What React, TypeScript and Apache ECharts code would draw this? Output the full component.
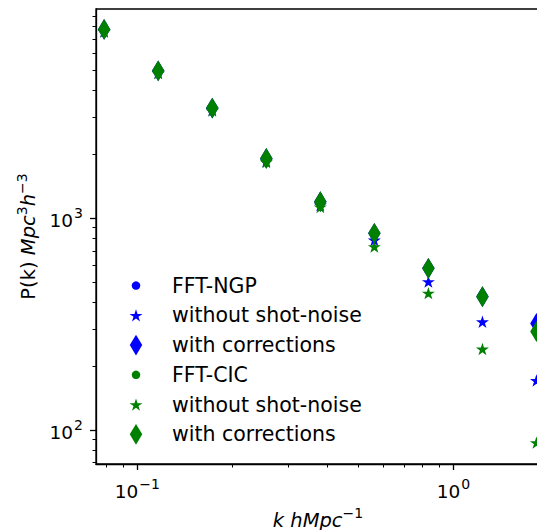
import React, { useEffect, useRef } from "react";
import * as echarts from "echarts";

// ---- data ----
const kValues = [0.0785, 0.1164, 0.1726, 0.2559, 0.3793, 0.5623, 0.8336, 1.236, 1.832];
const ngpRaw = [7770, 4950, 3300, 1910, 1190, 845, 578, 425, 318];
const ngpNoShot = [7620, 4850, 3240, 1858, 1152, 787, 501, 324, 171];
const ngpCorrected = [7770, 4953, 3303, 1912, 1194, 847, 579, 426, 318];
const cicRaw = [7770, 4953, 3303, 1912, 1194, 847, 579, 425, 291];
const cicNoShot = [7600, 4830, 3220, 1837, 1127, 733, 442, 241, 87];
const cicCorrected = [7770, 4953, 3303, 1912, 1194, 847, 579, 425, 291];

const xMajorTicks = [0.1, 1];
const xMinorTicks = [0.08, 0.09, 0.2, 0.3, 0.4, 0.5, 0.6, 0.7, 0.8, 0.9];
const yMajorTicks = [100, 1000];
const yMinorTicks = [70, 80, 90, 200, 300, 400, 500, 600, 700, 800, 900, 2000, 3000, 4000, 5000, 6000, 7000, 8000, 9000];

const legendLabels = [
  "FFT-NGP",
  "without shot-noise",
  "with corrections",
  "FFT-CIC",
  "without shot-noise",
  "with corrections",
];

const BLUE = "#0000ff";
const GREEN = "#008000";
const FONT = "DejaVu Sans";
const FS = 18.5;
const NFS = 19.5;
const LFS = 20.5;
const STAR =
  "path://M0,-1L0.2245,-0.309L0.9511,-0.309L0.3633,0.118L0.5878,0.809L0,0.382L-0.5878,0.809L-0.3633,0.118L-0.9511,-0.309L-0.2245,-0.309Z";

const rich = {
  b: { fontSize: FS, fontFamily: FONT, color: "#000", lineHeight: 24, verticalAlign: "bottom" },
  s: { fontSize: 14, fontFamily: FONT, color: "#000", lineHeight: 9, verticalAlign: "top", padding: [0, 0, 0, 1] },
};
const nameRich = {
  b: { fontSize: NFS, fontFamily: FONT, color: "#000", lineHeight: 24, verticalAlign: "bottom" },
  i: { fontSize: NFS, fontFamily: FONT, color: "#000", fontStyle: "italic", lineHeight: 24, verticalAlign: "bottom" },
  s: { fontSize: 14, fontFamily: FONT, color: "#000", lineHeight: 9, verticalAlign: "top" },
};

const supLabel = (v: number) => {
  const e = Math.round(Math.log10(v));
  return "{b|10}{s|" + (e < 0 ? "\u2212" + -e : String(e)) + "}";
};

export default function App() {
  const ref = useRef<HTMLDivElement>(null);
  useEffect(() => {
    if (!ref.current) return;
    const chart = echarts.init(ref.current, null, { renderer: "svg" });
    const pts = (ys: number[]) => kValues.map((k, i) => [k, ys[i]]);
    const names = ["NGP-raw", "NGP-noshot", "NGP-corr", "CIC-raw", "CIC-noshot", "CIC-corr"];
    const symbols: any[] = ["circle", STAR, "diamond", "circle", STAR, "diamond"];
    const sizes: any[] = [8.5, [13, 12.4], [12.5, 20.8], 8.5, [13, 12.4], [12.5, 20.8]];
    const colors = [BLUE, BLUE, BLUE, GREEN, GREEN, GREEN];
    const datasets = [ngpRaw, ngpNoShot, ngpCorrected, cicRaw, cicNoShot, cicCorrected];

    const series = names.map((n, idx) => ({
      type: "scatter",
      name: n,
      data: pts(datasets[idx]),
      symbol: symbols[idx],
      symbolSize: sizes[idx],
      itemStyle: { color: colors[idx], opacity: 1 },
      xAxisIndex: 0,
      yAxisIndex: 0,
      z: 2 + idx * 0.01,
      emphasis: { disabled: true },
    }));

    const legends = names.map((n, idx) => {
      const sz = sizes[idx];
      const w = Array.isArray(sz) ? sz[0] : sz;
      const h = Array.isArray(sz) ? sz[1] : sz;
      const rowY = 285.6 + 29.75 * idx;
      return {
        show: true,
        left: 136 - w / 2,
        top: rowY - 12,
        padding: 0,
        itemWidth: w,
        itemHeight: h,
        selectedMode: false,
        data: [{ name: n, icon: symbols[idx], itemStyle: { color: colors[idx] } }],
        formatter: () => legendLabels[idx],
        textStyle: {
          fontSize: LFS,
          fontFamily: FONT,
          color: "#000",
          lineHeight: 24,
          padding: [0, 0, 0, 172 - (136 + w / 2 + 5)],
        },
      };
    });

    const xMin = 0.074;
    const xMax = 1.88;
    const yMin = 69;
    const yMax = 9700;

    chart.setOption({
      animation: false,
      backgroundColor: "#fff",
      grid: {
        left: 96,
        top: 9,
        width: 444,
        bottom: 66,
        outerBoundsMode: "none",
        containLabel: false,
        show: true,
        borderColor: "#000",
        borderWidth: 1.3,
        backgroundColor: "transparent",
      },
      legend: legends,
      xAxis: [
        {
          type: "log",
          logBase: 10,
          min: xMin,
          max: xMax,
          position: "bottom",
          axisLine: { show: true, onZero: false, lineStyle: { color: "#000", width: 1.3 } },
          axisTick: { show: true, customValues: xMajorTicks, length: 6, lineStyle: { color: "#000", width: 1.3 } },
          axisLabel: { show: true, customValues: xMajorTicks, margin: 13, formatter: supLabel, rich },
          splitLine: { show: false },
          minorTick: { show: false },
          name: "{i|k hMpc}{s|\u22121}",
          nameLocation: "middle",
          nameGap: 42,
          nameTextStyle: { rich: nameRich },
        },
        {
          type: "log",
          logBase: 10,
          min: xMin,
          max: xMax,
          position: "bottom",
          axisLine: { show: false },
          axisTick: { show: true, customValues: xMinorTicks, length: 3.5, lineStyle: { color: "#000", width: 1 } },
          axisLabel: { show: false },
          splitLine: { show: false },
        },
      ],
      yAxis: [
        {
          type: "log",
          logBase: 10,
          min: yMin,
          max: yMax,
          position: "left",
          axisLine: { show: true, onZero: false, lineStyle: { color: "#000", width: 1.3 } },
          axisTick: { show: true, customValues: yMajorTicks, length: 6, lineStyle: { color: "#000", width: 1.3 } },
          axisLabel: { show: true, customValues: yMajorTicks, margin: 13, formatter: supLabel, rich },
          splitLine: { show: false },
          name: "{b|P(k) }{i|Mpc}{s|3}{i|h}{s|\u22123}",
          nameLocation: "middle",
          nameGap: 57,
          nameRotate: 90,
          nameTextStyle: { rich: nameRich },
        },
        {
          type: "log",
          logBase: 10,
          min: yMin,
          max: yMax,
          position: "left",
          axisLine: { show: false },
          axisTick: { show: true, customValues: yMinorTicks, length: 3.5, lineStyle: { color: "#000", width: 1 } },
          axisLabel: { show: false },
          splitLine: { show: false },
        },
      ],
      series,
    });
    return () => chart.dispose();
  }, []);

  return (
    <div
      ref={ref}
      style={{ position: "fixed", left: 0, top: 0, width: 537, height: 530, background: "#fff" }}
    />
  );
}
